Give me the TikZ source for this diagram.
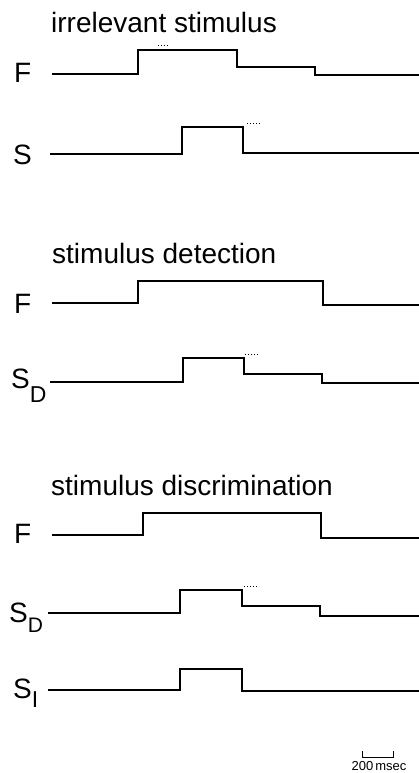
\documentclass[tikz,border=0pt]{standalone}
\usepackage{fontspec}
\setmainfont{Liberation Sans}
\usetikzlibrary{calc}
\begin{document}
\begin{tikzpicture}[x=1pt,y=-1pt,
  trace/.style={line width=1.6pt, line join=miter},
  dots/.style={line width=0.9pt, dash pattern=on 0.9pt off 2.2pt},
  title/.style={anchor=base west, inner sep=0pt, font=\fontsize{28}{28}\selectfont},
  lab/.style={anchor=base west, inner sep=0pt, font=\fontsize{28}{28}\selectfont},
  scalelab/.style={anchor=base, inner sep=0pt, font=\fontsize{13}{13}\selectfont}]
\useasboundingbox (0,0) rectangle (419,773);
% titles
\node[title] (t1) at (51,33) {irrelevant stimulus};
\node[title] (t2) at (52,263) {stimulus detection};
\node[title] (t3) at (51,495) {stimulus discrimination};
% labels
\node[lab] (f1) at (14,83) {F};
\node[lab] (s1) at (13,164) {S};
\node[lab] (f2) at (14,313) {F};
\node[lab] (s2) at (11,388) {S\raisebox{-14pt}{\fontsize{23}{23}\selectfont D}};
\node[lab] (f3) at (14,543) {F};
\node[lab] (s3) at (9,622) {S\raisebox{-10pt}{\fontsize{21}{21}\selectfont D}};
\node[lab] (s4) at (13,698) {S\raisebox{-9pt}{\fontsize{23}{23}\selectfont I}};
% traces: irrelevant stimulus
\draw[trace] (52,74) -- (138,74) -- (138,50) -- (237,50) -- (237,67) -- (315,67) -- (315,75) -- (419,75);
\draw[trace] (50,154) -- (182,154) -- (182,127) -- (243,127) -- (243,153) -- (419,153);
\draw[dots] (158,45) -- (170,45);
\draw[dots] (247,123) -- (260,123);
% stimulus detection
\draw[trace] (52,303) -- (138,303) -- (138,281) -- (323,281) -- (323,305) -- (419,305);
\draw[trace] (50,382) -- (183,382) -- (183,358) -- (244,358) -- (244,374) -- (322,374) -- (322,383) -- (419,383);
\draw[dots] (245,354) -- (258,354);
% stimulus discrimination
\draw[trace] (52,535) -- (143,535) -- (143,513) -- (321,513) -- (321,538) -- (419,538);
\draw[trace] (48,613) -- (180,613) -- (180,590) -- (242,590) -- (242,606) -- (320,606) -- (320,616) -- (419,616);
\draw[dots] (244,586) -- (258,586);
\draw[trace] (48,690) -- (180,690) -- (180,669) -- (242,669) -- (242,691) -- (419,691);
% scale bar
\coordinate (sb1) at (362,751);
\coordinate (sb2) at (393,751);
\draw[line width=0.8pt] (sb1) -- ++(0,6) -- ($(sb2)+(0,6)$) -- (sb2);
\node[scalelab] (sbl) at (379,770) {200\,msec};
\end{tikzpicture}
\end{document}
